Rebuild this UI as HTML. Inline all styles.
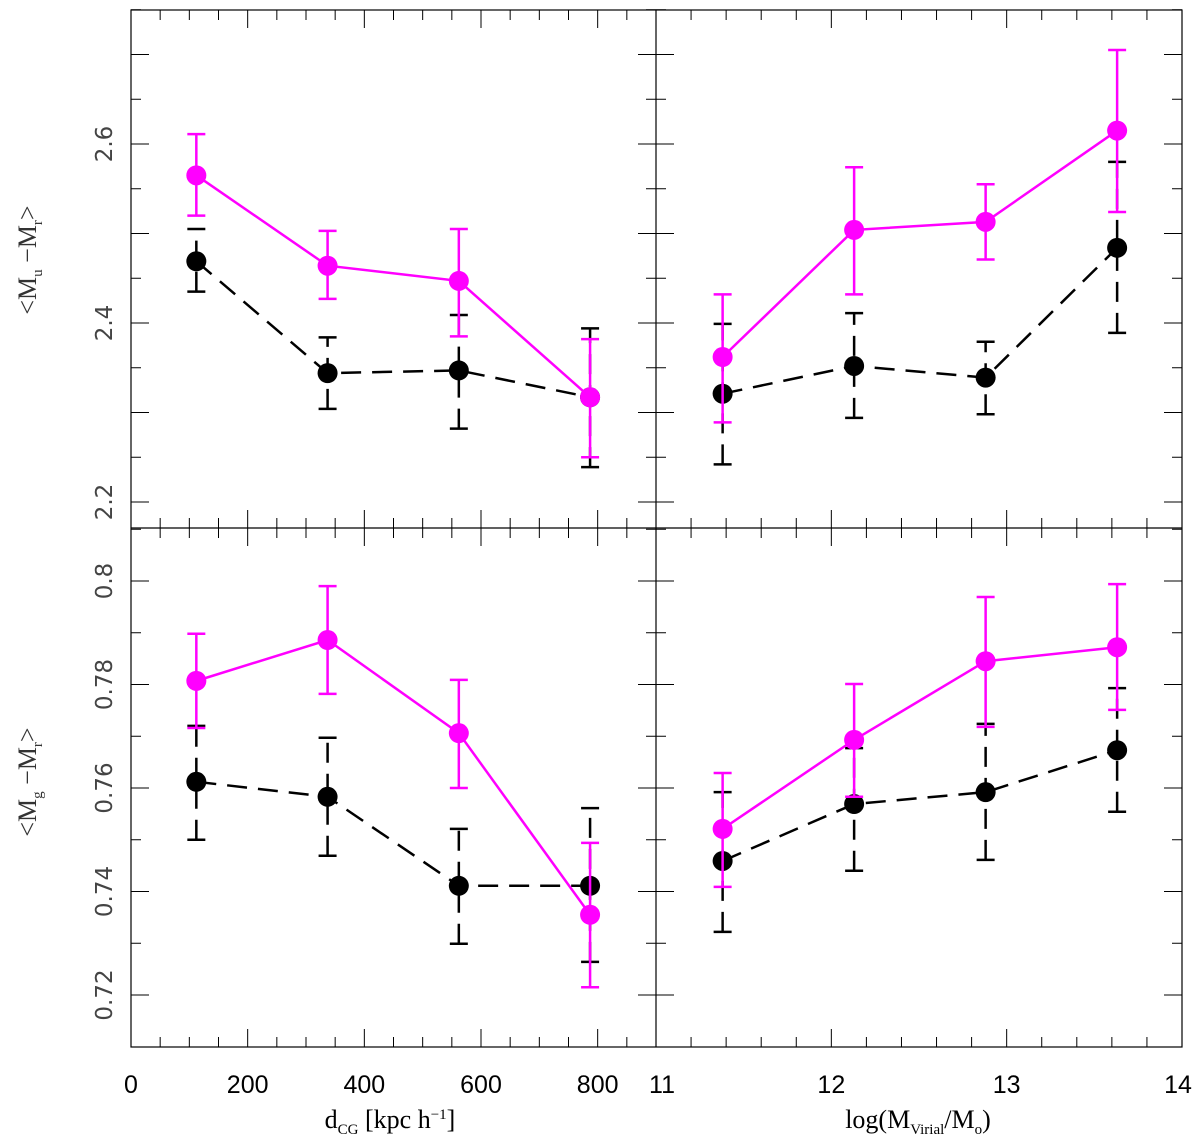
<!DOCTYPE html>
<html><head><meta charset="utf-8"><style>
html,body{margin:0;padding:0;background:#fff;width:1200px;height:1139px;overflow:hidden}
</style></head><body>
<svg id="chart" width="1200" height="1139" viewBox="0 0 1200 1139" xmlns="http://www.w3.org/2000/svg"></svg>
<script>
// Data
const xDist = [112, 337, 562, 787];
const xMass = [11.38, 12.13, 12.88, 13.63];
// top-left: <Mu-Mr> vs dCG
const urDistMag = [2.565, 2.464, 2.447, 2.317];
const urDistMagLo = [2.520, 2.427, 2.385, 2.250];
const urDistMagHi = [2.611, 2.503, 2.505, 2.382];
const urDistBlk = [2.469, 2.344, 2.347, 2.317];
const urDistBlkLo = [2.435, 2.304, 2.282, 2.239];
const urDistBlkHi = [2.505, 2.384, 2.409, 2.394];
// top-right: <Mu-Mr> vs mass
const urMassMag = [2.362, 2.504, 2.513, 2.615];
const urMassMagLo = [2.289, 2.432, 2.471, 2.524];
const urMassMagHi = [2.432, 2.574, 2.555, 2.705];
const urMassBlk = [2.321, 2.352, 2.339, 2.484];
const urMassBlkLo = [2.242, 2.294, 2.298, 2.389];
const urMassBlkHi = [2.399, 2.411, 2.379, 2.580];
// bottom-left: <Mg-Mr> vs dCG
const grDistMag = [0.7807, 0.7886, 0.7706, 0.7355];
const grDistMagLo = [0.7716, 0.7782, 0.7600, 0.7215];
const grDistMagHi = [0.7898, 0.7990, 0.7809, 0.7494];
const grDistBlk = [0.7612, 0.7583, 0.7411, 0.7411];
const grDistBlkLo = [0.7500, 0.7469, 0.7299, 0.7264];
const grDistBlkHi = [0.7720, 0.7697, 0.7521, 0.7561];
// bottom-right: <Mg-Mr> vs mass
const grMassMag = [0.7521, 0.7693, 0.7845, 0.7872];
const grMassMagLo = [0.7409, 0.7583, 0.7718, 0.7751];
const grMassMagHi = [0.7629, 0.7801, 0.7969, 0.7994];
const grMassBlk = [0.7459, 0.7569, 0.7592, 0.7673];
const grMassBlkLo = [0.7322, 0.7440, 0.7461, 0.7554];
const grMassBlkHi = [0.7592, 0.7677, 0.7724, 0.7793];
// ticks
const distTickLabels = ["0","200","400","600","800"];
const massTickLabels = ["11","12","13","14"];
const urTickLabels = ["2.2","2.4","2.6"];
const grTickLabels = ["0.72","0.74","0.76","0.78","0.8"];

const svg = document.getElementById('chart');
const NS = 'http://www.w3.org/2000/svg';
function mk(tag, attrs, parent){
  const e = document.createElementNS(NS, tag);
  for (const k in attrs) e.setAttribute(k, attrs[k]);
  (parent||svg).appendChild(e);
  return e;
}
const L=131, M=656, R=1182, T=10, MID=528, B=1047;
function lin(d0,d1,r0,r1){return v=>r0+(v-d0)/(d1-d0)*(r1-r0);}
const xD = lin(0,900,L,M);
const xM = lin(11,14,M,R);
const yU = lin(2.2,2.6,502,144);
const yG = lin(0.72,0.80,995,581);

function xTicks(sx, x0, x1, minorStep, majorStep, y0, y1){
  for (let v=x0; v<=x1+1e-9; v+=minorStep){
    const px = sx(v);
    const major = Math.abs(v/majorStep-Math.round(v/majorStep))<1e-6;
    const len = major?18:10;
    const t1 = mk('line',{x1:px,x2:px,y1:y1,y2:y1-len,stroke:'#000','stroke-width':1});
    
    
    const t2 = mk('line',{x1:px,x2:px,y1:y0,y2:y0+len,stroke:'#000','stroke-width':1});
    
    
  }
}
function yTicks(sy, v0, v1, minorStep, majorStep, xa, xb){
  for (let v=v0; v<=v1+1e-9; v+=minorStep){
    const py = sy(v);
    const major = Math.abs(v/majorStep-Math.round(v/majorStep))<1e-6;
    const len = major?18:10;
    const t1 = mk('line',{x1:xa,x2:xa+len,y1:py,y2:py,stroke:'#000','stroke-width':1});
    
    
    const t2 = mk('line',{x1:xb,x2:xb-len,y1:py,y2:py,stroke:'#000','stroke-width':1});
    
    
  }
}
xTicks(xD,0,900,50,200,T,MID); xTicks(xD,0,900,50,200,MID,B);
xTicks(xM,11,14,0.2,1,T,MID); xTicks(xM,11,14,0.2,1,MID,B);
yTicks(yU,2.2,2.75,0.05,0.1,L,M); yTicks(yU,2.2,2.75,0.05,0.1,M,R);
yTicks(yG,0.72,0.81,0.01,0.02,L,M); yTicks(yG,0.72,0.81,0.01,0.02,M,R);

const fr = mk('rect',{x:L,y:T,width:R-L,height:B-T,fill:'none',stroke:'#000','stroke-width':1.2});
 
const h = mk('line',{x1:L,x2:R,y1:MID,y2:MID,stroke:'#000','stroke-width':1.2});
 
const v = mk('line',{x1:M,x2:M,y1:T,y2:B,stroke:'#000','stroke-width':1.2});
 

const SANS = 'font-family:"Liberation Sans",sans-serif';
const SERIF = 'font-family:"Liberation Serif",serif';
distTickLabels.forEach(s=>{
  const t = mk('text',{x:xD(+s),y:1093,'font-size':25,'text-anchor':'middle',style:SANS}); t.textContent=s;
   
});
massTickLabels.forEach(s=>{
  const t = mk('text',{x:xM(+s)+(s==='14'?-4:(s==='11'?6:0)),y:1093,'font-size':25,'text-anchor':'middle',style:SANS}); t.textContent=s;
   
});
urTickLabels.forEach(s=>{
  const py=yU(+s);
  const t = mk('text',{x:0,y:0,transform:`translate(112,${py}) rotate(-90)`,'font-size':23,'text-anchor':'middle',style:'font-family:"DejaVu Sans",sans-serif','fill':'#444'}); t.textContent=s;
   
});
grTickLabels.forEach(s=>{
  const py=yG(+s);
  const t = mk('text',{x:0,y:0,transform:`translate(112,${py}) rotate(-90)`,'font-size':23,'text-anchor':'middle',style:'font-family:"DejaVu Sans",sans-serif','fill':'#444'}); t.textContent=s;
   
});

function title(html, attrs, name){
  const t = mk('text', attrs); t.innerHTML = html;
   
}
title('d<tspan font-size="15" dy="6">CG</tspan><tspan dy="-6"> [kpc h</tspan><tspan font-size="15" dy="-9">−1</tspan><tspan dy="9">]</tspan>',
  {x:390,y:1128,'font-size':26,'text-anchor':'middle',style:SERIF},'x-axis-title-distance');
title('log(M<tspan font-size="15" dy="6">Virial</tspan><tspan dy="-6">/M</tspan><tspan font-size="15" dy="6">o</tspan><tspan dy="-6">)</tspan>',
  {x:918,y:1128,'font-size':26,'text-anchor':'middle',style:SERIF},'x-axis-title-mass');
title('&lt;M<tspan font-size="15" dy="6">u</tspan><tspan dy="-6"> −M</tspan><tspan font-size="15" dy="6">r</tspan><tspan dy="-6">&gt;</tspan>',
  {x:0,y:0,transform:'translate(36,260) rotate(-90)','font-size':26,'text-anchor':'middle',style:SERIF,'fill':'#333'},'y-axis-title-u-r');
title('&lt;M<tspan font-size="15" dy="6">g</tspan><tspan dy="-6"> −M</tspan><tspan font-size="15" dy="6">r</tspan><tspan dy="-6">&gt;</tspan>',
  {x:0,y:0,transform:'translate(36,782) rotate(-90)','font-size':26,'text-anchor':'middle',style:SERIF,'fill':'#333'},'y-axis-title-g-r');

function series(xs, ys, lo, hi, sx, sy, color, dashed, name){
  const g = mk('g',{});
  
  
  const dash = dashed ? {'stroke-dasharray':'20 11'} : {};
  const pts = xs.map((x,i)=>sx(x)+','+sy(ys[i])).join(' ');
  const pl = mk('polyline',Object.assign({points:pts,fill:'none',stroke:color,'stroke-width':2.5},dash),g);
  
  
  xs.forEach((x,i)=>{
    const px=sx(x);
    const eb = mk('line',Object.assign({x1:px,x2:px,y1:sy(lo[i]),y2:sy(hi[i]),stroke:color,'stroke-width':2.5},dash),g);
    
    
    [lo[i],hi[i]].forEach(vv=>{
      const c = mk('line',{x1:px-9,x2:px+9,y1:sy(vv),y2:sy(vv),stroke:color,'stroke-width':2.5},g);
      
      
    });
  });
  xs.forEach((x,i)=>{
    const c = mk('circle',{cx:sx(x),cy:sy(ys[i]),r:10,fill:color},g);
    
    
  });
}
series(xDist,urDistBlk,urDistBlkLo,urDistBlkHi,xD,yU,'#000',true,'ur-dist-black');
series(xDist,urDistMag,urDistMagLo,urDistMagHi,xD,yU,'#ff00ff',false,'ur-dist-magenta');
series(xMass,urMassBlk,urMassBlkLo,urMassBlkHi,xM,yU,'#000',true,'ur-mass-black');
series(xMass,urMassMag,urMassMagLo,urMassMagHi,xM,yU,'#ff00ff',false,'ur-mass-magenta');
series(xDist,grDistBlk,grDistBlkLo,grDistBlkHi,xD,yG,'#000',true,'gr-dist-black');
series(xDist,grDistMag,grDistMagLo,grDistMagHi,xD,yG,'#ff00ff',false,'gr-dist-magenta');
series(xMass,grMassBlk,grMassBlkLo,grMassBlkHi,xM,yG,'#000',true,'gr-mass-black');
series(xMass,grMassMag,grMassMagLo,grMassMagHi,xM,yG,'#ff00ff',false,'gr-mass-magenta');
</script>
</body></html>
